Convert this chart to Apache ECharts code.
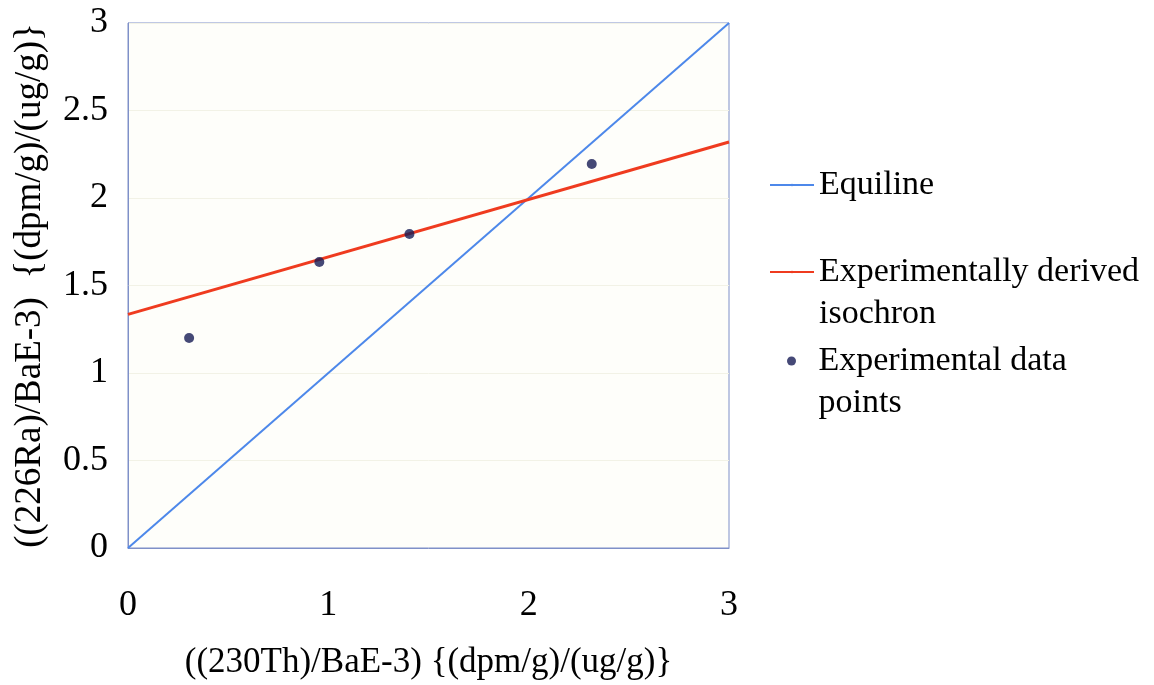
<!DOCTYPE html>
<html>
<head>
<meta charset="utf-8">
<script src="https://cdn.jsdelivr.net/npm/echarts@6/dist/echarts.min.js"></script>
<style>
  html, body { margin: 0; padding: 0; background: #ffffff; }
  #chart { width: 1154px; height: 685px; }
</style>
</head>
<body>
<div id="chart"></div>
<script>
// Isochron plot: 226Ra/Ba versus 230Th/Ba
const xTicks = [0, 1, 2, 3];
const yTicks = [0, 0.5, 1, 1.5, 2, 2.5, 3];

// Equiline (1:1 line) end points
const equilineX = [0, 3];
const equilineY = [0, 3];

// Experimentally derived isochron end points
const isochronX = [0, 3];
const isochronY = [1.335, 2.32];

// Experimental data points
const dataX = [0.305, 0.955, 1.405, 2.315];
const dataY = [1.20, 1.634, 1.794, 2.194];

const names = ['Equiline', 'Experimentally derived isochron', 'Experimental data points'];
// Two-line entries get a blank leading line so the icon sits beside the first line
const legendLabels = {
  'Equiline': 'Equiline',
  'Experimentally derived isochron': '\nExperimentally derived\nisochron',
  'Experimental data points': '\nExperimental data\npoints'
};

const pair = (xs, ys) => xs.map((x, i) => [x, ys[i]]);

const FONT = '"Liberation Serif", "Times New Roman", serif';
const LH = 42;

function legendFor(name, left, top, icon, w, h) {
  const entry = { name: name };
  if (icon) entry.icon = icon;
  return {
    data: [entry],
    left: left,
    top: top,
    orient: 'vertical',
    itemWidth: w,
    itemHeight: h,
    selectedMode: false,
    formatter: n => legendLabels[n],
    textStyle: {
      fontFamily: FONT,
      fontSize: 34,
      color: '#000000',
      lineHeight: LH
    }
  };
}

const chart = echarts.init(document.getElementById('chart'), null, { renderer: 'canvas' });

chart.setOption({
  backgroundColor: '#ffffff',
  animation: false,
  grid: {
    left: 128, right: 425, top: 23, bottom: 137,
    show: true,
    backgroundColor: '#fefefa',
    borderColor: '#7f90c8',
    borderWidth: 1
  },
  legend: [
    legendFor(names[0], 764, 159, null, 44, 3),
    legendFor(names[1], 764, 204, null, 44, 3),
    legendFor(names[2], 782, 293, 'circle', 44, 9)
  ],
  xAxis: {
    type: 'value',
    min: xTicks[0], max: xTicks[xTicks.length - 1], interval: 1,
    name: '((230Th)/BaE-3) {(dpm/g)/(ug/g)}',
    nameLocation: 'middle',
    nameGap: 97,
    nameTextStyle: { fontFamily: FONT, fontSize: 35, color: '#000000', verticalAlign: 'top' },
    axisLine: { show: true, lineStyle: { color: '#7f90c8', width: 1 } },
    axisTick: { show: false },
    splitLine: { show: false },
    axisLabel: { margin: 40, fontFamily: FONT, fontSize: 36, color: '#000000' }
  },
  yAxis: {
    type: 'value',
    min: yTicks[0], max: yTicks[yTicks.length - 1], interval: 0.5,
    name: '((226Ra)/BaE-3)  {(dpm/g)/(ug/g)}',
    nameLocation: 'middle',
    nameGap: 98,
    nameRotate: 90,
    nameTextStyle: { fontFamily: FONT, fontSize: 37, color: '#000000', verticalAlign: 'middle' },
    axisLine: { show: true, lineStyle: { color: '#7f90c8', width: 1 } },
    axisTick: { show: false },
    splitLine: { show: true, lineStyle: { color: '#f2f2e6', width: 1 } },
    axisLabel: { margin: 20, fontFamily: FONT, fontSize: 36, color: '#000000' }
  },
  series: [
    {
      name: names[0],
      type: 'line',
      data: pair(equilineX, equilineY),
      showSymbol: false,
      symbol: 'none',
      lineStyle: { color: '#4d88ea', width: 2 },
      itemStyle: { color: '#4d88ea' },
      z: 2
    },
    {
      name: names[1],
      type: 'line',
      data: pair(isochronX, isochronY),
      showSymbol: false,
      symbol: 'none',
      lineStyle: { color: '#ef3b1f', width: 3 },
      itemStyle: { color: '#ef3b1f' },
      z: 3
    },
    {
      name: names[2],
      type: 'scatter',
      data: pair(dataX, dataY),
      symbol: 'circle',
      symbolSize: 10,
      itemStyle: { color: '#161b55' },
      z: 4
    }
  ]
});
</script>
</body>
</html>
